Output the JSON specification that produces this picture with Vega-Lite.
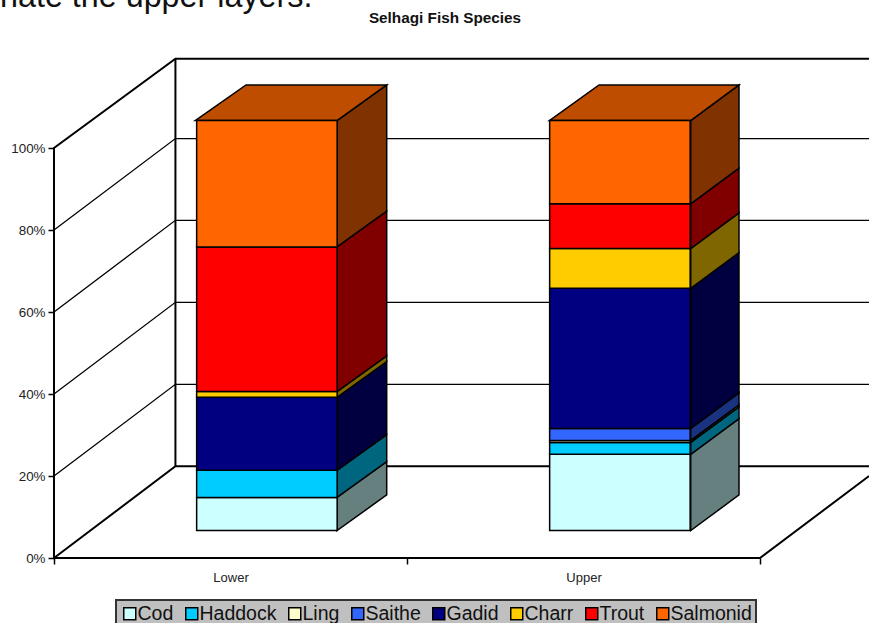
{"$schema":"https://vega.github.io/schema/vega-lite/v6.json","width":706,"height":558,"autosize":"none","padding":{"left":54,"right":109,"top":0,"bottom":65},"background":"white",
"title":{"text":"Selhagi Fish Species","font":"Liberation Sans","fontSize":15.3,"fontWeight":"bold","color":"#111111","anchor":"middle","frame":"group","dx":38,"offset":-45},
"config":{"view":{"stroke":null},"font":"Liberation Sans","legend":{"strokeWidth":2}},
"datasets":{
"bars":[
{"category":"Lower","species":"Cod","value":8.1,"lo":0,"hi":8.1},
{"category":"Lower","species":"Haddock","value":6.6,"lo":8.1,"hi":14.7},
{"category":"Lower","species":"Ling","value":0,"lo":14.7,"hi":14.7},
{"category":"Lower","species":"Saithe","value":0,"lo":14.7,"hi":14.7},
{"category":"Lower","species":"Gadid","value":17.8,"lo":14.7,"hi":32.5},
{"category":"Lower","species":"Charr","value":1.4,"lo":32.5,"hi":33.9},
{"category":"Lower","species":"Trout","value":35.3,"lo":33.9,"hi":69.2},
{"category":"Lower","species":"Salmonid","value":30.8,"lo":69.2,"hi":100},
{"category":"Upper","species":"Cod","value":18.6,"lo":0,"hi":18.6},
{"category":"Upper","species":"Haddock","value":2.9,"lo":18.6,"hi":21.5},
{"category":"Upper","species":"Ling","value":0.5,"lo":21.5,"hi":22},
{"category":"Upper","species":"Saithe","value":2.9,"lo":22,"hi":24.9},
{"category":"Upper","species":"Gadid","value":34.2,"lo":24.9,"hi":59.1},
{"category":"Upper","species":"Charr","value":9.7,"lo":59.1,"hi":68.8},
{"category":"Upper","species":"Trout","value":10.9,"lo":68.8,"hi":79.7},
{"category":"Upper","species":"Salmonid","value":20.3,"lo":79.7,"hi":100}],
"sides":[
{"category":"Lower","species":"Cod","x":0.8017,"lo":0,"hi":8.1},{"category":"Lower","species":"Cod","x":0.9425,"lo":8.7,"hi":16.8},
{"category":"Lower","species":"Haddock","x":0.8017,"lo":8.1,"hi":14.7},{"category":"Lower","species":"Haddock","x":0.9425,"lo":16.8,"hi":23.4},
{"category":"Lower","species":"Gadid","x":0.8017,"lo":14.7,"hi":32.5},{"category":"Lower","species":"Gadid","x":0.9425,"lo":23.4,"hi":41.2},
{"category":"Lower","species":"Charr","x":0.8017,"lo":32.5,"hi":33.9},{"category":"Lower","species":"Charr","x":0.9425,"lo":41.2,"hi":42.6},
{"category":"Lower","species":"Trout","x":0.8017,"lo":33.9,"hi":69.2},{"category":"Lower","species":"Trout","x":0.9425,"lo":42.6,"hi":77.9},
{"category":"Lower","species":"Salmonid","x":0.8017,"lo":69.2,"hi":100},{"category":"Lower","species":"Salmonid","x":0.9425,"lo":77.9,"hi":108.7},
{"category":"Upper","species":"Cod","x":1.8037,"lo":0,"hi":18.6},{"category":"Upper","species":"Cod","x":1.9405,"lo":8.7,"hi":27.3},
{"category":"Upper","species":"Haddock","x":1.8037,"lo":18.6,"hi":21.5},{"category":"Upper","species":"Haddock","x":1.9405,"lo":27.3,"hi":30.2},
{"category":"Upper","species":"Ling","x":1.8037,"lo":21.5,"hi":22},{"category":"Upper","species":"Ling","x":1.9405,"lo":30.2,"hi":30.7},
{"category":"Upper","species":"Saithe","x":1.8037,"lo":22,"hi":24.9},{"category":"Upper","species":"Saithe","x":1.9405,"lo":30.7,"hi":33.6},
{"category":"Upper","species":"Gadid","x":1.8037,"lo":24.9,"hi":59.1},{"category":"Upper","species":"Gadid","x":1.9405,"lo":33.6,"hi":67.8},
{"category":"Upper","species":"Charr","x":1.8037,"lo":59.1,"hi":68.8},{"category":"Upper","species":"Charr","x":1.9405,"lo":67.8,"hi":77.5},
{"category":"Upper","species":"Trout","x":1.8037,"lo":68.8,"hi":79.7},{"category":"Upper","species":"Trout","x":1.9405,"lo":77.5,"hi":88.4},
{"category":"Upper","species":"Salmonid","x":1.8037,"lo":79.7,"hi":100},{"category":"Upper","species":"Salmonid","x":1.9405,"lo":88.4,"hi":108.7}],
"tops":[
{"category":"Lower","x":0.4,"lo":100,"hi":100},{"category":"Lower","x":0.544,"lo":100,"hi":108.7},{"category":"Lower","x":0.8017,"lo":100,"hi":108.7},{"category":"Lower","x":0.9425,"lo":108.7,"hi":108.7},
{"category":"Upper","x":1.4034,"lo":100,"hi":100},{"category":"Upper","x":1.544,"lo":100,"hi":108.7},{"category":"Upper","x":1.8037,"lo":100,"hi":108.7},{"category":"Upper","x":1.9405,"lo":108.7,"hi":108.7}],
"grid":[
{"line":"20","i":0,"x":0,"y":20},{"line":"20","i":1,"x":0.344,"y":42.37},{"line":"20","i":2,"x":2.309,"y":42.37},
{"line":"40","i":0,"x":0,"y":40},{"line":"40","i":1,"x":0.344,"y":62.37},{"line":"40","i":2,"x":2.309,"y":62.37},
{"line":"60","i":0,"x":0,"y":60},{"line":"60","i":1,"x":0.344,"y":82.37},{"line":"60","i":2,"x":2.309,"y":82.37},
{"line":"80","i":0,"x":0,"y":80},{"line":"80","i":1,"x":0.344,"y":102.3},{"line":"80","i":2,"x":2.309,"y":102.3}],
"frame":[
{"line":"floor","i":0,"x":2.309,"y":20},{"line":"floor","i":1,"x":2,"y":0},{"line":"floor","i":2,"x":0,"y":0},{"line":"floor","i":3,"x":0,"y":100},{"line":"floor","i":4,"x":0.344,"y":121.8},{"line":"floor","i":5,"x":2.309,"y":121.8},
{"line":"back","i":0,"x":0,"y":0},{"line":"back","i":1,"x":0.344,"y":22.37},{"line":"back","i":2,"x":2.309,"y":22.37},
{"line":"wall","i":0,"x":0.344,"y":22.37},{"line":"wall","i":1,"x":0.344,"y":121.8}],
"note":[{"label":"nate the upper layers.","x":-0.153,"y":134.4}]
},
"layer":[
{"data":{"name":"grid"},"mark":{"type":"line","stroke":"#000000","strokeWidth":1.3},
"encoding":{"x":{"field":"x","type":"quantitative","scale":{"domain":[0,2],"nice":false,"zero":false},"axis":null},
"y":{"field":"y","type":"quantitative","scale":{"domain":[0,136.1],"nice":false,"zero":false},"axis":{"values":[0,20,40,60,80,100],"labelExpr":"datum.value+'%'","title":null,"grid":false,"domain":false,"tickSize":6,"tickColor":"#000000","tickWidth":1.5,"labelFont":"Liberation Sans","labelFontSize":13.4,"labelColor":"#222222","labelPadding":3}},
"detail":{"field":"line"},"order":{"field":"i"}}},
{"data":{"name":"frame"},"mark":{"type":"line","stroke":"#000000","strokeWidth":2},
"encoding":{"x":{"field":"x","type":"quantitative","scale":{"domain":[0,2],"nice":false,"zero":false},"axis":null},
"y":{"field":"y","type":"quantitative"},
"detail":{"field":"line"},"order":{"field":"i"}}},
{"data":{"name":"sides"},"mark":{"type":"area","orient":"vertical","stroke":"#000000","strokeWidth":1.5,"yOffset":-27.4,"y2Offset":-27.4},
"encoding":{"x":{"field":"x","type":"quantitative","scale":{"domain":[0,2],"nice":false,"zero":false},"axis":null},
"y":{"field":"hi","type":"quantitative","stack":null},"y2":{"field":"lo"},
"detail":{"field":"category"},
"color":{"field":"species","type":"nominal","legend":null,"scale":{"domain":["Cod","Haddock","Ling","Saithe","Gadid","Charr","Trout","Salmonid"],"range":["#668080","#006680","#808066","#1A3380","#000040","#806600","#800000","#803300"]}}}},
{"data":{"name":"tops"},"mark":{"type":"area","orient":"vertical","fill":"#BF4D00","stroke":"#000000","strokeWidth":1.5,"yOffset":-27.4,"y2Offset":-27.4},
"encoding":{"x":{"field":"x","type":"quantitative","scale":{"domain":[0,2],"nice":false,"zero":false},"axis":null},
"y":{"field":"hi","type":"quantitative","stack":null},"y2":{"field":"lo"},
"detail":{"field":"category"}}},
{"data":{"name":"bars"},"mark":{"type":"bar","width":140.5,"xOffset":36.4,"yOffset":-27.4,"y2Offset":-27.4,"stroke":"#000000","strokeWidth":1.5},
"encoding":{"x":{"field":"category","type":"nominal","scale":{"type":"band","paddingInner":0,"paddingOuter":0},"axis":{"title":null,"labelAngle":0,"tickBand":"extent","domain":false,"tickSize":6,"tickColor":"#000000","tickWidth":1.5,"labelFont":"Liberation Sans","labelFontSize":13,"labelColor":"#222222","labelPadding":7}},
"y":{"field":"hi","type":"quantitative","stack":null},"y2":{"field":"lo"},
"color":{"field":"species","type":"nominal","scale":{"domain":["Cod","Haddock","Ling","Saithe","Gadid","Charr","Trout","Salmonid"],"range":["#CCFFFF","#00CCFF","#FFFFCC","#3366FF","#000080","#FFCC00","#FF0000","#FF6600"]},
"legend":{"title":null,"orient":"none","legendX":62,"legendY":600,"direction":"horizontal","columns":8,"gridAlign":"none","columnPadding":8,"symbolType":"square","symbolSize":144,"symbolStrokeColor":"#000000","symbolStrokeWidth":1.5,"fillColor":"#C0C0C0","strokeColor":"#333333","padding":4,"labelFont":"Liberation Sans","labelFontSize":19.5,"labelColor":"#111111","labelOffset":-2,"labelLimit":200}}}},
{"data":{"name":"note"},"mark":{"type":"text","align":"left","baseline":"alphabetic","font":"Liberation Sans","fontSize":32.3,"color":"#111111"},
"encoding":{"x":{"field":"x","type":"quantitative","scale":{"domain":[0,2],"nice":false,"zero":false},"axis":null},
"y":{"field":"y","type":"quantitative"},"text":{"field":"label"}}}
],
"resolve":{"scale":{"x":"independent","color":"independent"}}}
